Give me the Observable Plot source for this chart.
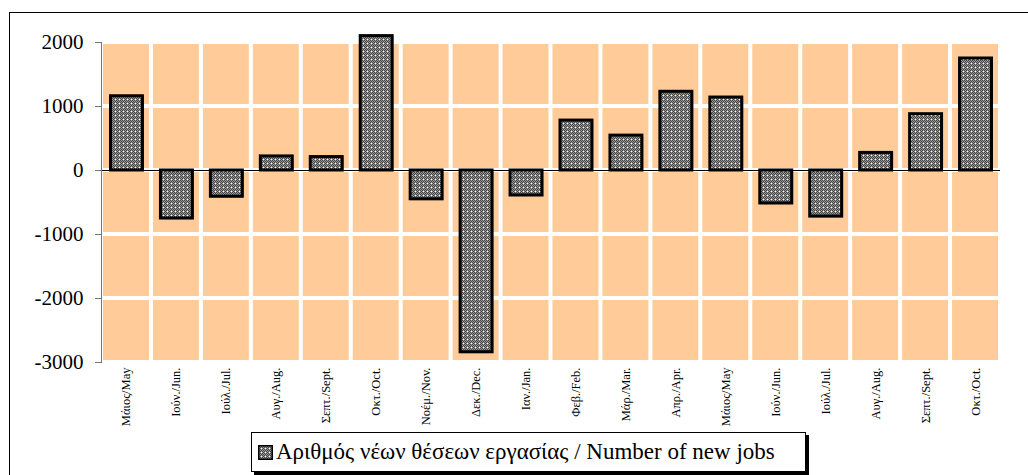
<!DOCTYPE html>
<html>
<head>
<meta charset="utf-8">
<script src="https://cdn.jsdelivr.net/npm/d3@7"></script>
<script src="https://cdn.jsdelivr.net/npm/@observablehq/plot@0.6"></script>
<style>
  html, body { margin: 0; padding: 0; background: #fff; overflow: hidden; }
  body { width: 1028px; height: 475px; position: relative; font-family: "Liberation Serif", "Times New Roman", serif; }
  #chart { position: absolute; left: 0; top: 0; }
  #outer { position: absolute; left: 9px; top: 12px; width: 1040px; height: 500px; border: 1px solid #000; pointer-events: none; }
  #legend { position: absolute; left: 251px; top: 432px; width: 553px; height: 38px; border: 1px solid #000;
            box-shadow: 3px 3px 0 #000; background: #fff; font-size: 23px; color: #000;
            display: flex; align-items: center; justify-content: flex-start; padding-left: 0; }
  #legend .item { white-space: nowrap; display: flex; align-items: center; margin-left: 6px; }
  #legend svg { margin-right: 3px; }
</style>
</head>
<body>
<div id="chart"></div>
<div id="outer"></div>
<div id="legend"><div class="item"><svg width="15" height="15"><rect x="0.75" y="0.75" width="13.5" height="13.5" fill="url(#chk)" stroke="#000" stroke-width="1.5"></rect></svg><span id="legtext"></span></div></div>
<script>
const categories = ["Μάιος/May","Ιούν./Jun.","Ιούλ./Jul.","Αυγ./Aug.","Σεπτ./Sept.","Οκτ./Oct.","Νοέμ./Nov.","Δεκ./Dec.","Ιαν./Jan.","Φεβ./Feb.","Μάρ./Mar.","Απρ./Apr.","Μάιος/May","Ιούν./Jun.","Ιούλ./Jul.","Αυγ./Aug.","Σεπτ./Sept.","Οκτ./Oct."];
const newJobs = [1160, -750, -410, 220, 210, 2100, -450, -2840, -390, 780, 545, 1230, 1140, -515, -720, 275, 880, 1750];
const yTicks = [-3000, -2000, -1000, 0, 1000, 2000];
const seriesName = "Αριθμός νέων θέσεων εργασίας / Number of new jobs";

document.getElementById("legtext").textContent = seriesName;

const idx = categories.map((_, i) => i);
const bars = newJobs.map((v, i) => ({i, v}));
const cells = [];
for (const i of idx) for (let k = 0; k < yTicks.length - 1; k++) cells.push({i, lo: yTicks[k], hi: yTicks[k + 1]});

const chart = Plot.plot({
  width: 1028, height: 430,
  marginLeft: 101, marginRight: 28, marginTop: 42, marginBottom: 68,
  style: {fontFamily: "Liberation Serif, serif", background: "transparent", color: "#000"},
  x: {type: "band", domain: idx, padding: 0, round: false, label: null},
  y: {domain: [yTicks[0], yTicks[yTicks.length - 1]], label: null},
  marks: [
    Plot.barY(cells, {x: "i", y1: "lo", y2: "hi", fill: "#FFCC99", insetLeft: 2, insetRight: 2, insetTop: 2, insetBottom: 2}),
    Plot.ruleY([0], {stroke: "#000", strokeWidth: 1}),
    Plot.barY(bars, {x: "i", y: "v", fill: "#888", fillOpacity: 0.5, insetLeft: 10, insetRight: 7, dy: 1.5}),
    Plot.barY(bars, {x: "i", y: "v", fill: "url(#chk)", stroke: "#000", strokeWidth: 3, insetLeft: 9.5, insetRight: 8.5}),
    Plot.frame({anchor: "left", stroke: "#777"}),
    Plot.axisY({ticks: yTicks, tickSize: 6, tickPadding: 12, fontSize: 21, stroke: "#777", label: null, tickFormat: d => String(d)}),
    Plot.axisX({tickSize: 0, tickPadding: 5, tickRotate: -90, fontSize: 12.5, label: null, tickFormat: i => categories[i]})
  ]
});
chart.insertAdjacentHTML("afterbegin",
  '<defs><pattern id="chk" width="4" height="4" patternUnits="userSpaceOnUse">' +
  '<rect width="4" height="4" fill="#9a9a9a"/>' +
  '<rect x="0" y="0" width="1" height="1" fill="#444"/><rect x="2" y="0" width="1" height="1" fill="#444"/>' +
  '<rect x="1" y="1" width="1" height="1" fill="#444"/><rect x="3" y="1" width="1" height="1" fill="#444"/>' +
  '<rect x="0" y="2" width="1" height="1" fill="#444"/><rect x="2" y="2" width="1" height="1" fill="#444"/>' +
  '<rect x="1" y="3" width="1" height="1" fill="#444"/><rect x="3" y="3" width="1" height="1" fill="#fff"/>' +
  '</pattern></defs>');
document.getElementById("chart").appendChild(chart);
</script>
</body>
</html>
